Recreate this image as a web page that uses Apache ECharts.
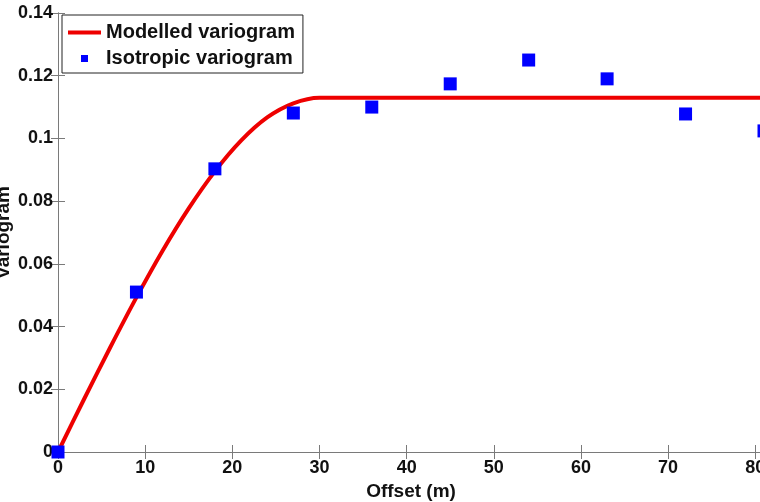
<!DOCTYPE html>
<html>
<head>
<meta charset="utf-8">
<script src="https://cdn.jsdelivr.net/npm/echarts@6/dist/echarts.min.js"></script>
<style>
  html, body { margin: 0; padding: 0; background: #fff; }
  #chart { width: 760px; height: 502px; }
</style>
</head>
<body>
<div id="chart"></div>
<script>
// experimental (isotropic) variogram points
const lagOffsets = [0, 9, 18, 27, 36, 45, 54, 63, 72, 81];
const isoValues = [0, 0.0510, 0.0903, 0.1081, 0.1100, 0.1174, 0.1250, 0.1190, 0.1078, 0.1024];

// fitted model
const modelOffsets = [0, 3, 6, 9, 12, 15, 18, 21, 24, 27, 30, 40, 50, 60, 70, 81];
const modelValues = [0, 0.0169, 0.0334, 0.0493, 0.0642, 0.0777, 0.0895, 0.0993, 0.1067, 0.1112, 0.1130, 0.1130, 0.1130, 0.1130, 0.1130, 0.1130];

const xTickLabels = ['0', '10', '20', '30', '40', '50', '60', '70', '80'];
const yTickLabels = ['0', '0.02', '0.04', '0.06', '0.08', '0.1', '0.12', '0.14'];

const font = 'Liberation Sans';
const axisGrey = '#7a7a7a';

const chart = echarts.init(document.getElementById('chart'));

const option = {
  animation: false,
  backgroundColor: '#fff',
  grid: { left: 58, top: 13, right: -4, bottom: 50, containLabel: false, outerBoundsMode: 'none' },
  legend: {
    orient: 'vertical',
    left: 62,
    top: 15,
    padding: [7, 8, 4, 6],
    itemGap: 5,
    itemWidth: 33,
    itemHeight: 7,
    symbolKeepAspect: true,
    backgroundColor: '#fff',
    borderColor: '#222',
    borderWidth: 1,
    borderRadius: 0,
    textStyle: { fontFamily: font, fontWeight: 'bold', fontSize: 20, color: '#111', lineHeight: 21 },
    data: [
      { name: 'Modelled variogram', icon: 'path://M0,0H33V4H0Z' },
      { name: 'Isotropic variogram', icon: 'path://M0,0H7V7H0Z' }
    ]
  },
  xAxis: [
    {
      type: 'value',
      min: 0,
      max: 81,
      interval: 10,
      name: 'Offset (m)',
      nameLocation: 'middle',
      nameGap: 22,
      nameTextStyle: { fontFamily: font, fontWeight: 'bold', fontSize: 19, color: '#111', verticalAlign: 'top' },
      axisLine: { lineStyle: { color: axisGrey, width: 1 } },
      axisTick: { inside: true, length: 7, lineStyle: { color: axisGrey } },
      axisLabel: {
        margin: 7,
        fontFamily: font, fontWeight: 'bold', fontSize: 18, color: '#111',
        formatter: v => xTickLabels.includes(String(v)) ? String(v) : ''
      },
      splitLine: { show: false }
    },
    {
      type: 'value',
      position: 'top',
      min: 0,
      max: 81,
      interval: 10,
      axisLine: { lineStyle: { color: axisGrey, width: 1 } },
      axisTick: { inside: true, length: 7, lineStyle: { color: axisGrey } },
      axisLabel: { show: false },
      splitLine: { show: false }
    }
  ],
  yAxis: [
    {
      type: 'value',
      min: 0,
      max: 0.14,
      interval: 0.02,
      name: 'Variogram',
      nameLocation: 'middle',
      nameGap: 45,
      nameMoveOverlap: false,
      nameTextStyle: { fontFamily: font, fontWeight: 'bold', fontSize: 19, color: '#111' },
      axisLine: { show: true, lineStyle: { color: axisGrey, width: 1 } },
      axisTick: { show: true, inside: true, length: 7, lineStyle: { color: axisGrey } },
      axisLabel: {
        margin: 5,
        fontFamily: font, fontWeight: 'bold', fontSize: 18, color: '#111',
        formatter: v => {
          const s = String(parseFloat(v.toFixed(2)));
          return yTickLabels.includes(s) ? s : '';
        }
      },
      splitLine: { show: false }
    },
    {
      type: 'value',
      position: 'right',
      min: 0,
      max: 0.14,
      interval: 0.02,
      axisLine: { show: true, lineStyle: { color: axisGrey, width: 1 } },
      axisTick: { show: true, inside: true, length: 7, lineStyle: { color: axisGrey } },
      axisLabel: { show: false },
      splitLine: { show: false }
    }
  ],
  series: [
    {
      name: 'Modelled variogram',
      type: 'line',
      smooth: 0.3,
      symbol: 'none',
      lineStyle: { color: '#ee0000', width: 4 },
      itemStyle: { color: '#ee0000' },
      data: modelOffsets.map((x, i) => [x, modelValues[i]]),
      z: 2
    },
    {
      name: 'Isotropic variogram',
      type: 'scatter',
      symbol: 'rect',
      symbolSize: 13,
      itemStyle: { color: '#0000ff', opacity: 1 },
      data: lagOffsets.map((x, i) => [x, isoValues[i]]),
      z: 3
    }
  ]
};

chart.setOption(option);
</script>
</body>
</html>
